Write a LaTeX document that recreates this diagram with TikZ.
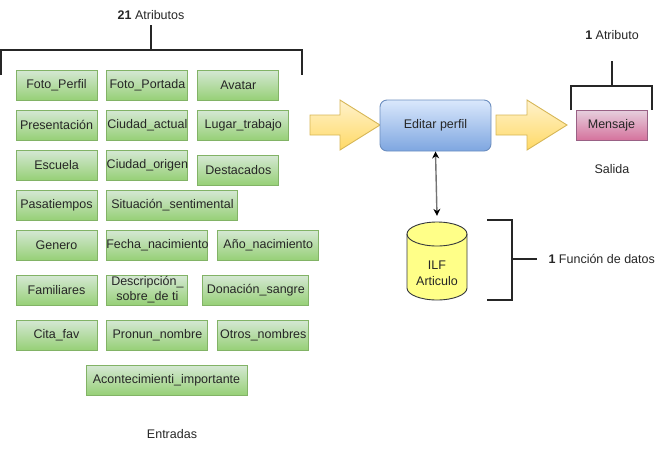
\documentclass[tikz,border=0pt]{standalone}
\usepackage{fontspec}
\setmainfont{Liberation Sans}
\usepackage{xcolor}
\definecolor{colorAttrTop}{HTML}{D5E8D4}
\definecolor{colorAttrBottom}{HTML}{97D077}
\definecolor{colorAttrLine}{HTML}{82B366}
\definecolor{colorProcTop}{HTML}{DAE8FC}
\definecolor{colorProcBottom}{HTML}{7EA6E0}
\definecolor{colorProcLine}{HTML}{6C8EBF}
\definecolor{colorOutTop}{HTML}{E6D0DE}
\definecolor{colorOutBottom}{HTML}{D5739D}
\definecolor{colorOutLine}{HTML}{996185}
\definecolor{colorFlowTop}{HTML}{FFF2CC}
\definecolor{colorFlowBottom}{HTML}{FFD966}
\definecolor{colorFlowLine}{HTML}{D6B656}
\definecolor{colorFile}{HTML}{FFFF88}
\definecolor{colorFileLine}{HTML}{36393D}
\usepackage{tikz}
\usetikzlibrary{arrows, arrows.meta, positioning}
\newcommand{\fitbox}[1]{\makebox[0pt]{#1}}
\tikzset{
  attr/.style={draw=colorAttrLine, top color=colorAttrTop, bottom color=colorAttrBottom, line width=0.9pt, inner sep=0pt, minimum width=81pt, minimum height=30pt, text=black!85},
  flow/.style={draw=colorFlowLine, top color=colorFlowTop, bottom color=colorFlowBottom, line width=0.9pt},
  brace/.style={line width=1.4pt, black!85},
  lbl/.style={text=black!85}
}

\begin{document}
\begin{tikzpicture}[x=1pt, y=-1pt, >=stealth', font=\fontsize{12.5}{15}\selectfont]
\useasboundingbox (0,0) rectangle (667,451);
% entradas
\node[attr] (a1) at (56.5,85) {Foto\_Perfil};
\node[attr, right=9pt of a1] (a2) {\fitbox{Foto\_Portada}};
\node[attr, right=9pt of a2] (a3) {Avatar};
\node[attr] (a4) at (56.5,125) {\fitbox{Presentación}};
\node[attr, right=9pt of a4] (a5) {\fitbox{Ciudad\_actual}};
\node[attr, right=9pt of a5, minimum width=91pt] (a6) {Lugar\_trabajo};
\node[attr] (a7) at (56.5,165) {Escuela};
\node[attr, right=9pt of a7] (a8) {\fitbox{Ciudad\_origen}};
\node[attr, right=9pt of a8, yshift=-5pt] (a9) {Destacados};
\node[attr] (a10) at (56.5,205) {\fitbox{Pasatiempos}};
\node[attr, right=9pt of a10, minimum width=131pt] (a11) {Situación\_sentimental};
\node[attr] (a12) at (56.5,245) {Genero};
\node[attr, right=9pt of a12, minimum width=101pt] (a13) {\fitbox{Fecha\_nacimiento}};
\node[attr, right=9pt of a13, minimum width=101pt] (a14) {\fitbox{Año\_nacimiento}};
\node[attr] (a15) at (56.5,290) {Familiares};
\node[attr, right=9pt of a15, align=center, font=\fontsize{12.5}{15}\selectfont] (a16) {Descripción\_\\sobre\_de ti};
\node[attr, right=14pt of a16, minimum width=106pt] (a17) {\fitbox{Donación\_sangre}};
\node[attr] (a18) at (56.5,335) {Cita\_fav};
\node[attr, right=9pt of a18, minimum width=101pt] (a19) {Pronun\_nombre};
\node[attr, right=9pt of a19, minimum width=91pt] (a20) {\fitbox{Otros\_nombres}};
\node[attr, minimum width=161pt] (a21) at (166.5,380) {Acontecimienti\_importante};
\node[lbl] (entradas) at (172,434) {Entradas};
% llave de entradas
\node[lbl] (n21) at (151,15) {\textbf{21} Atributos};
\draw[brace] (1,75) -- (1,50) -- (302,50) -- (302,75);
\draw[brace] (151,25) -- (151,50);
% proceso
\draw[flow] (310,115) -- (340,115) -- (340,100) -- (380,125) -- (340,150) -- (340,135) -- (310,135) -- cycle;
\node[draw=colorProcLine, top color=colorProcTop, bottom color=colorProcBottom, line width=0.9pt, rounded corners=7pt, minimum width=111pt, minimum height=51pt, text=black!85] (ed) at (435.5,125.5) {Editar perfil};
\draw[flow] (496,115) -- (527,115) -- (527,100) -- (567,125) -- (527,150) -- (527,135) -- (496,135) -- cycle;
% salida
\node[draw=colorOutLine, top color=colorOutTop, bottom color=colorOutBottom, line width=0.9pt, minimum width=71pt, minimum height=30pt, text=black!85] (msg) at (611.5,125) {Mensaje};
\node[lbl] (n1) at (612,35) {\textbf{1} Atributo};
\draw[brace] (571,110) -- (571,86) -- (652,86) -- (652,110);
\draw[brace] (612,61) -- (612,86);
\node[lbl] (salida) at (612,169) {Salida};
% archivo logico
\draw[draw=colorFileLine, fill=colorFile, line width=0.9pt] (407,234) -- (407,288) arc[start angle=180, end angle=360, x radius=30pt, y radius=12pt] -- (467,234) arc[start angle=0, end angle=180, x radius=30pt, y radius=12pt] -- cycle;
\draw[draw=colorFileLine, line width=0.9pt] (407,234) arc[start angle=180, end angle=360, x radius=30pt, y radius=12pt];
\node[align=center, inner sep=0pt, minimum width=60pt, minimum height=78pt, text=black!85, font=\fontsize{12.5}{16}\selectfont] (ilf) at (437,273) {ILF\\Articulo};
\draw[{Stealth[black, length=7pt, width=7pt]}-{Stealth[black, length=7pt, width=7pt]}, black!55, line width=1.4pt] (ed.south) -- ([yshift=18pt]ilf.north);
\draw[brace] (487,220) -- (512,220) -- (512,300) -- (487,300);
\draw[brace] (512,259) -- (537,259);
\node[lbl, anchor=west] (nfd) at (545,259) {\textbf{1} Función de datos};
\end{tikzpicture}
\end{document}
